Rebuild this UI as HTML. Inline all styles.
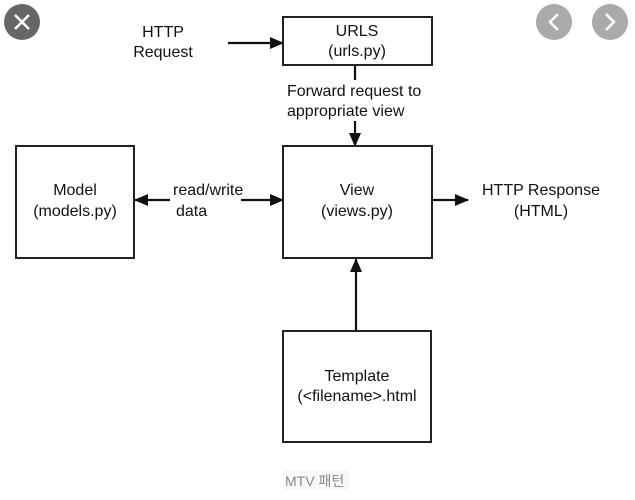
<!DOCTYPE html>
<html><head><meta charset="utf-8"><style>
html,body{margin:0;padding:0;background:#fff;}
svg{display:block;}
text{font-family:"Liberation Sans",Arial,sans-serif;font-size:16px;fill:#111;}
</style></head><body>
<svg width="635" height="500" viewBox="0 0 635 500" xmlns="http://www.w3.org/2000/svg">
<defs>
<marker id="a" markerWidth="14" markerHeight="12" refX="13" refY="6" orient="auto" markerUnits="userSpaceOnUse">
<path d="M0,0 L14,6 L0,12 z" fill="#111"/></marker>
</defs>
<circle cx="22" cy="22" r="18" fill="#666"/>
<path d="M15,15 L29,29 M29,15 L15,29" stroke="#fff" stroke-width="2.5"/>
<circle cx="554" cy="22" r="18" fill="#aaa"/>
<path d="M558,14 L550,22 L558,30" stroke="#fff" stroke-width="2.5" fill="none"/>
<circle cx="610" cy="22" r="18" fill="#aaa"/>
<path d="M606,14 L614,22 L606,30" stroke="#fff" stroke-width="2.5" fill="none"/>

<g fill="none" stroke="#222" stroke-width="2">
<rect x="283" y="17" width="149" height="48"/>
<rect x="283" y="146" width="149" height="112"/>
<rect x="16" y="146" width="118" height="112"/>
<rect x="283" y="331" width="148" height="111"/>
</g>
<g stroke="#111" stroke-width="2.2" fill="none">
<line x1="228" y1="43" x2="283" y2="43" marker-end="url(#a)"/>
<line x1="355" y1="65" x2="355" y2="80"/>
<line x1="355" y1="121" x2="355" y2="146" marker-end="url(#a)"/>
<line x1="170" y1="200" x2="135" y2="200" marker-end="url(#a)"/>
<line x1="241" y1="200" x2="283" y2="200" marker-end="url(#a)"/>
<line x1="432" y1="200" x2="468" y2="200" marker-end="url(#a)"/>
<line x1="356" y1="331" x2="356" y2="259" marker-end="url(#a)"/>
</g>
<g text-anchor="middle">
<text x="163" y="37">HTTP</text>
<text x="163" y="57">Request</text>
<text x="357" y="36">URLS</text>
<text x="357" y="56">(urls.py)</text>
<text x="75" y="195">Model</text>
<text x="75" y="216">(models.py)</text>
<text x="357" y="195">View</text>
<text x="357" y="216">(views.py)</text>
<text x="541" y="195">HTTP Response</text>
<text x="541" y="216">(HTML)</text>
<text x="357" y="381">Template</text>
<text x="357" y="401">(&lt;filename&gt;.html</text>
</g>
<text x="287" y="96">Forward request to</text>
<text x="287" y="116">appropriate view</text>
<text x="173" y="195">read/write</text>
<text x="176" y="216">data</text>
<rect x="283" y="470" width="66" height="20" fill="#f8f8f8"/>
<text x="285" y="486" style="font-size:14px;fill:#888;font-family:'Liberation Sans','Noto Sans CJK KR',sans-serif">MTV 패턴</text>
</svg>
</body></html>
